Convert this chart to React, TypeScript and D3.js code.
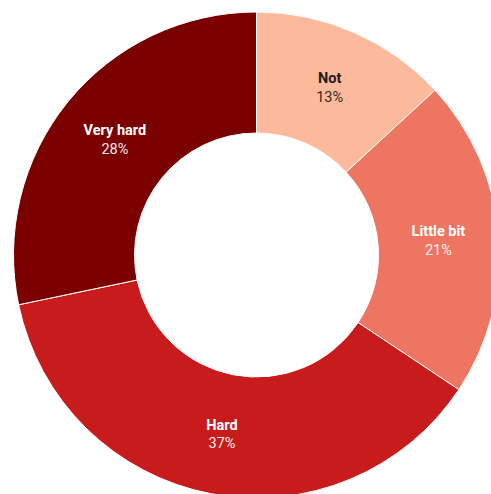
import React from "react";
import * as d3 from "d3";

const categories = ["Not", "Little bit", "Hard", "Very hard"];
const values = [13, 21, 37, 28];
const colors = ["#FDB99B", "#EE7561", "#C81B1C", "#7B0000"];
const textColors = ["#1a1a1a", "#ffffff", "#ffffff", "#ffffff"];

export default function App() {
  const width = 491;
  const height = 494;
  const cx = 256.5;
  const cy = 255;
  const outerR = 243;
  const innerR = 122;

  const data = categories.map((c, i) => ({ name: c, value: values[i], i }));
  const pie = d3.pie<any>().value((d) => d.value).sort(null);
  const arcs = pie(data);
  const arc = d3.arc<any>().innerRadius(innerR).outerRadius(outerR);

  return (
    <svg
      width={width}
      height={height}
      style={{ position: "absolute", left: 0, top: 0, background: "#fff" }}
    >
      <g transform={`translate(${cx},${cy})`}>
        {arcs.map((a, k) => (
          <path key={k} d={arc(a) || ""} fill={colors[k]} stroke="#fff" strokeWidth={1} />
        ))}
        {arcs.map((a, k) => {
          const [x, y] = arc.centroid(a);
          return (
            <g key={"t" + k} fontFamily="Roboto, sans-serif" fontSize={14.5} textAnchor="middle" fill={textColors[k]}>
              <text x={x} y={y - 4.5} fontWeight="bold">{categories[k]}</text>
              <text x={x} y={y + 14} opacity={0.92}>{values[k]}%</text>
            </g>
          );
        })}
      </g>
    </svg>
  );
}
